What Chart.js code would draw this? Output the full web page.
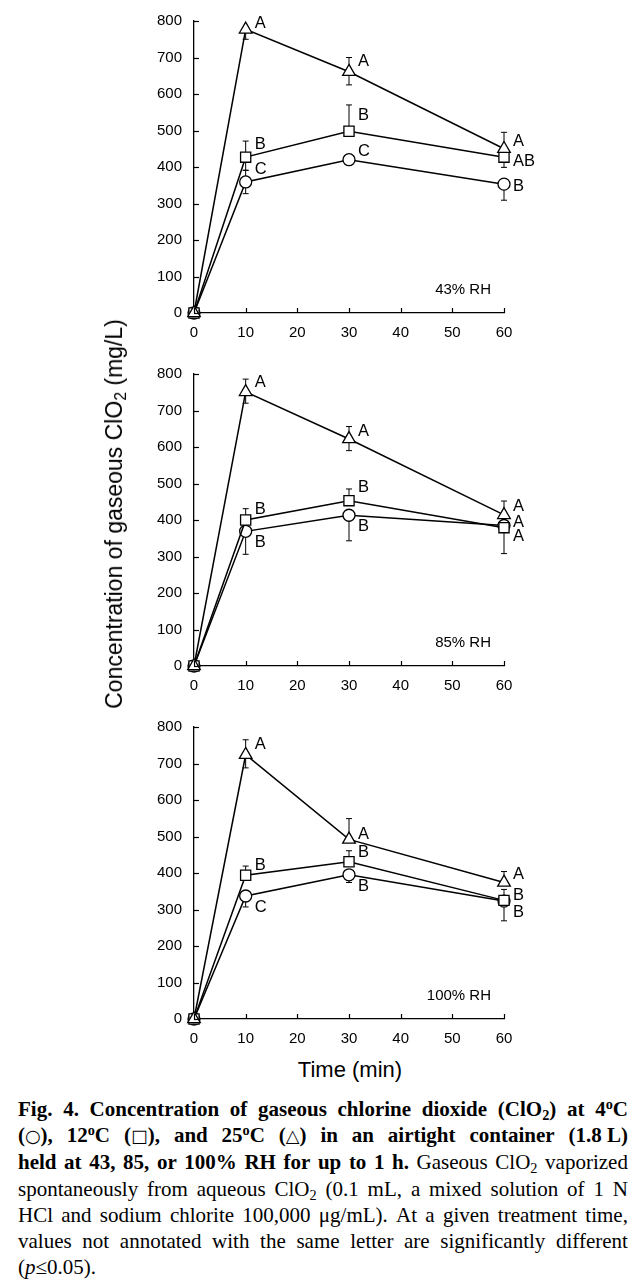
<!DOCTYPE html>
<html>
<head>
<meta charset="utf-8">
<script src="https://cdn.jsdelivr.net/npm/chart.js@4.4.0/dist/chart.umd.min.js"></script>
<style>
html,body{margin:0;padding:0;background:#fff;}
body{width:641px;height:1282px;position:relative;overflow:hidden;}
canvas{position:absolute;left:0;}
#ytitle{position:absolute;left:114px;top:514px;transform:translate(-50%,-50%) rotate(-90deg);
  font-family:"Liberation Sans",Arial,sans-serif;font-size:23px;white-space:nowrap;color:#000;line-height:26px;}
#xtitle{position:absolute;left:350px;top:1070px;transform:translate(-50%,-50%);
  font-family:"Liberation Sans",Arial,sans-serif;font-size:22px;white-space:nowrap;color:#000;}
#caption{position:absolute;left:18px;width:610px;top:1096px;font-family:"Liberation Serif","Times New Roman",serif;
  font-size:21px;line-height:26.2px;color:#000;}
.ln{display:flex;justify-content:space-between;white-space:nowrap;}
.ln.last{justify-content:flex-start;}
sub,sup{font-size:0.68em;line-height:0;}
sub{vertical-align:-0.25em;}
sup{vertical-align:0.5em;}
.sym{font-family:"DejaVu Sans",sans-serif;font-size:0.85em;}
</style>
</head>
<body>
<canvas id="p1" width="641" height="350" style="top:0px"></canvas>
<canvas id="p2" width="641" height="350" style="top:353px"></canvas>
<canvas id="p3" width="641" height="350" style="top:706px"></canvas>
<div id="ytitle">Concentration of gaseous ClO<sub>2</sub> (mg/L)</div>
<div id="xtitle">Time (min)</div>
<div id="caption"></div>
<script>
// ---------- data ----------
const times = [0, 10, 30, 60];
const xTicks = [0, 10, 20, 30, 40, 50, 60];
const yTicks = [0, 100, 200, 300, 400, 500, 600, 700, 800];
const rhLabels = ['43% RH', '85% RH', '100% RH'];

// 43% RH
const rh43_4C  = [0, 359, 420, 353];
const rh43_12C = [0, 427, 498, 427];
const rh43_25C = [0, 777, 661, 450];
const rh43_4C_up    = [0, 32, 0, 0];
const rh43_4C_down  = [0, 32, 0, 44];
const rh43_12C_up   = [0, 44, 72, 0];
const rh43_12C_down = [0, 36, 0, 28];
const rh43_25C_up   = [0, 0, 39, 45];
const rh43_25C_down = [0, 27, 36, 0];
const rh43_4C_let  = ['', 'C', 'C', 'B'];
const rh43_12C_let = ['', 'B', 'B', 'AB'];
const rh43_25C_let = ['', 'A', 'A', 'A'];

// 85% RH
const rh85_4C  = [0, 369, 413, 385];
const rh85_12C = [0, 400, 453, 379];
const rh85_25C = [0, 751, 622, 414];
const rh85_4C_up    = [0, 0, 0, 0];
const rh85_4C_down  = [0, 63, 70, 0];
const rh85_12C_up   = [0, 31, 32, 0];
const rh85_12C_down = [0, 0, 0, 71];
const rh85_25C_up   = [0, 35, 34, 38];
const rh85_25C_down = [0, 31, 32, 0];
const rh85_4C_let  = ['', 'B', 'B', 'A'];
const rh85_12C_let = ['', 'B', 'B', 'A'];
const rh85_25C_let = ['', 'A', 'A', 'A'];

// 100% RH
const rh100_4C  = [0, 337, 395, 323];
const rh100_12C = [0, 394, 431, 325];
const rh100_25C = [0, 724, 492, 374];
const rh100_4C_up    = [0, 0, 0, 0];
const rh100_4C_down  = [0, 30, 21, 54];
const rh100_12C_up   = [0, 25, 30, 30];
const rh100_12C_down = [0, 0, 0, 0];
const rh100_25C_up   = [0, 41, 57, 30];
const rh100_25C_down = [0, 36, 0, 0];
const rh100_4C_let  = ['', 'C', 'B', 'B'];
const rh100_12C_let = ['', 'B', 'B', 'B'];
const rh100_25C_let = ['', 'A', 'A', 'A'];

// ---------- layout / style (not data) ----------
const letterDy = [
  { c4: [0, -13, -8, 2],  c12: [0, -13, -16, 4], c25: [0, -6, -10, -7] },
  { c4: [0, 11, 11, -3],  c12: [0, -11, -13, 9], c25: [0, -9, -8, -8] },
  { c4: [0, 11, 12, 11],  c12: [0, -10, -9, -5], c25: [0, -10, -5, -8] }
];
const SANS = '"Liberation Sans", Arial, sans-serif';

const overlay = {
  id: 'overlay',
  beforeDatasetsDraw(chart) {
    const ctx = chart.ctx, ys = chart.scales.y;
    const cfg = chart.config.options.plugins.overlay;
    ctx.save();
    ctx.strokeStyle = '#000';
    ctx.lineWidth = 1;
    chart.data.datasets.forEach((ds, di) => {
      const meta = chart.getDatasetMeta(di);
      meta.data.forEach((pt, i) => {
        const v = ds.data[i].y;
        const up = cfg.errUp[di][i], dn = cfg.errDown[di][i];
        [[up, 1], [dn, -1]].forEach(([e, s]) => {
          if (!e) return;
          const yEnd = ys.getPixelForValue(v + s * e);
          ctx.beginPath();
          ctx.moveTo(pt.x, pt.y);
          ctx.lineTo(pt.x, yEnd);
          ctx.moveTo(pt.x - 3, yEnd);
          ctx.lineTo(pt.x + 3, yEnd);
          ctx.stroke();
        });
      });
    });
    ctx.restore();
  },
  afterDraw(chart) {
    const ctx = chart.ctx, xs = chart.scales.x, ys = chart.scales.y, a = chart.chartArea;
    const cfg = chart.config.options.plugins.overlay;
    ctx.save();
    // inside tick marks
    ctx.strokeStyle = '#000';
    ctx.lineWidth = 1.2;
    xs.ticks.forEach(t => {
      const px = Math.round(xs.getPixelForValue(t.value)) + 0.5;
      ctx.beginPath(); ctx.moveTo(px, a.bottom); ctx.lineTo(px, a.bottom - 5); ctx.stroke();
    });
    ys.ticks.forEach(t => {
      const py = Math.round(ys.getPixelForValue(t.value)) + 0.5;
      ctx.beginPath(); ctx.moveTo(a.left, py); ctx.lineTo(a.left + 5, py); ctx.stroke();
    });
    // significance letters
    ctx.fillStyle = '#000';
    ctx.font = '16.5px ' + SANS;
    ctx.textAlign = 'left';
    ctx.textBaseline = 'middle';
    chart.data.datasets.forEach((ds, di) => {
      const meta = chart.getDatasetMeta(di);
      meta.data.forEach((pt, i) => {
        const L = cfg.letters[di][i];
        if (!L) return;
        ctx.fillText(L, pt.x + 9, pt.y + cfg.dy[di][i]);
      });
    });
    // RH label
    ctx.font = '15px ' + SANS;
    ctx.textAlign = 'right';
    ctx.fillText(cfg.rh, a.right - 13, a.bottom - 23);
    ctx.restore();
  }
};

function makePanel(id, idx, s4, s12, s25, up, down, lets) {
  const mk = (arr) => times.map((t, i) => ({ x: t, y: arr[i] }));
  const base = { borderColor: '#000', borderWidth: 1.5, pointBackgroundColor: '#fff', pointBorderColor: '#000',
    pointBorderWidth: 1.3, tension: 0, clip: false, fill: false };
  const dy = letterDy[idx];
  new Chart(document.getElementById(id), {
    type: 'line',
    data: {
      datasets: [
        Object.assign({ label: '4 °C', data: mk(s4), pointStyle: 'circle', pointRadius: 6, order: 3 }, base),
        Object.assign({ label: '12 °C', data: mk(s12), pointStyle: 'rect', pointRadius: 7.2, order: 2 }, base),
        Object.assign({ label: '25 °C', data: mk(s25), pointStyle: 'triangle', pointRadius: 7.3, order: 1 }, base)
      ]
    },
    options: {
      responsive: false, animation: false, devicePixelRatio: 1,
      layout: { padding: { top: 20, right: 137, left: 0, bottom: 0 } },
      plugins: {
        legend: { display: false }, tooltip: { enabled: false },
        overlay: { errUp: up, errDown: down, letters: lets, dy: [dy.c4, dy.c12, dy.c25], rh: rhLabels[idx] }
      },
      scales: {
        x: {
          type: 'linear', min: 0, max: 60,
          afterBuildTicks: s => { s.ticks = xTicks.map(v => ({ value: v })); },
          afterFit: s => { s.height = 37; },
          grid: { display: false, drawTicks: false },
          border: { display: true, color: '#000', width: 1.3 },
          ticks: { color: '#000', font: { family: SANS, size: 15 }, padding: 11, maxRotation: 0, autoSkip: false }
        },
        y: {
          type: 'linear', min: 0, max: 800,
          afterBuildTicks: s => { s.ticks = yTicks.map(v => ({ value: v })); },
          afterFit: s => { s.width = 194; },
          grid: { display: false, drawTicks: false },
          border: { display: true, color: '#000', width: 1.3 },
          ticks: { color: '#000', font: { family: SANS, size: 15 }, padding: 12, autoSkip: false }
        }
      }
    },
    plugins: [overlay]
  });
}

makePanel('p1', 0, rh43_4C, rh43_12C, rh43_25C,
  [rh43_4C_up, rh43_12C_up, rh43_25C_up], [rh43_4C_down, rh43_12C_down, rh43_25C_down],
  [rh43_4C_let, rh43_12C_let, rh43_25C_let]);
makePanel('p2', 1, rh85_4C, rh85_12C, rh85_25C,
  [rh85_4C_up, rh85_12C_up, rh85_25C_up], [rh85_4C_down, rh85_12C_down, rh85_25C_down],
  [rh85_4C_let, rh85_12C_let, rh85_25C_let]);
makePanel('p3', 2, rh100_4C, rh100_12C, rh100_25C,
  [rh100_4C_up, rh100_12C_up, rh100_25C_up], [rh100_4C_down, rh100_12C_down, rh100_25C_down],
  [rh100_4C_let, rh100_12C_let, rh100_25C_let]);

// ---------- caption ----------
const B = w => '<b>' + w + '</b>';
const captionLines = [
  ['Fig.', '4.', 'Concentration', 'of', 'gaseous', 'chlorine', 'dioxide', '(ClO<sub>2</sub>)', 'at', '4<sup>o</sup>C'].map(B),
  ['(<span class="sym">○</span>),', '12<sup>o</sup>C', '(<span class="sym">□</span>),', 'and', '25<sup>o</sup>C', '(<span class="sym">△</span>)', 'in', 'an', 'airtight', 'container', '(1.8&nbsp;L)'].map(B),
  ['held', 'at', '43,', '85,', 'or', '100%', 'RH', 'for', 'up', 'to', '1', 'h.'].map(B).concat(['Gaseous', 'ClO<sub>2</sub>', 'vaporized']),
  ['spontaneously', 'from', 'aqueous', 'ClO<sub>2</sub>', '(0.1', 'mL,', 'a', 'mixed', 'solution', 'of', '1', 'N'],
  ['HCl', 'and', 'sodium', 'chlorite', '100,000', 'μg/mL).', 'At', 'a', 'given', 'treatment', 'time,'],
  ['values', 'not', 'annotated', 'with', 'the', 'same', 'letter', 'are', 'significantly', 'different'],
  ['(<i>p</i>≤0.05).']
];
const cap = document.getElementById('caption');
captionLines.forEach((words, li) => {
  const d = document.createElement('div');
  d.className = 'ln' + (li === captionLines.length - 1 ? ' last' : '');
  d.innerHTML = words.map(w => '<span>' + w + '</span>').join('');
  cap.appendChild(d);
});
</script>
</body>
</html>
